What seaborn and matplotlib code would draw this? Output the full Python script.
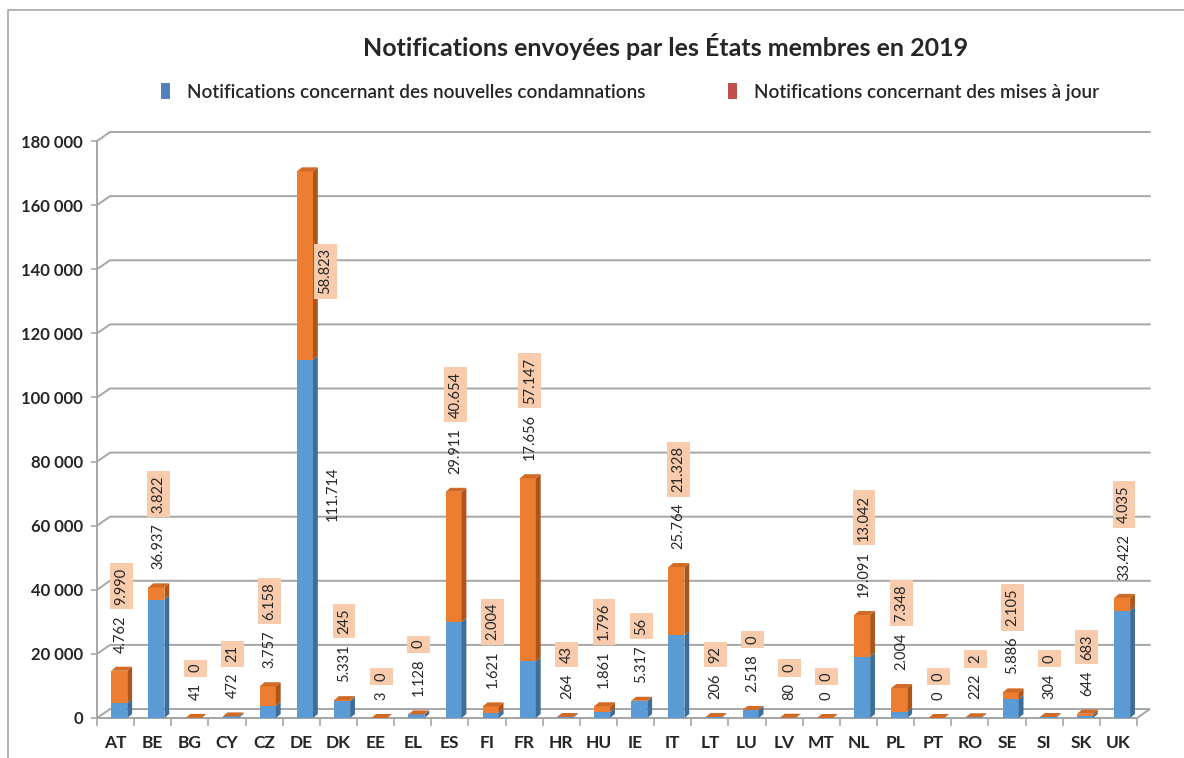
import matplotlib
matplotlib.use("Agg")
import matplotlib.pyplot as plt
from matplotlib.patches import Polygon, Patch, Rectangle
import pandas as pd
import seaborn as sns

# Données
pays = ['AT', 'BE', 'BG', 'CY', 'CZ', 'DE', 'DK', 'EE', 'EL', 'ES', 'FI', 'FR', 'HR', 'HU',
        'IE', 'IT', 'LT', 'LU', 'LV', 'MT', 'NL', 'PL', 'PT', 'RO', 'SE', 'SI', 'SK', 'UK']
nouvelles = [4762, 36937, 41, 472, 3757, 111714, 5331, 3, 1128, 29911, 1621, 17656, 264, 1861,
             5317, 25764, 206, 2518, 80, 0, 19091, 2004, 0, 222, 5886, 304, 644, 33422]
mises_a_jour = [9990, 3822, 0, 21, 6158, 58823, 245, 0, 0, 40654, 2004, 57147, 43, 1796,
                56, 21328, 92, 0, 0, 0, 13042, 7348, 0, 2, 2105, 0, 683, 4035]
y_ticks = list(range(0, 180001, 20000))

df = pd.DataFrame({'pays': pays, 'nouvelles': nouvelles, 'maj': mises_a_jour})
df['total'] = df['nouvelles'] + df['maj']

sns.set_theme(style='white')
plt.rcParams['font.family'] = ['Lato', 'DejaVu Sans']

bleu, bleu_cote = '#5B9BD5', '#3E6D9A'
orange, orange_cote, orange_haut = '#ED7D31', '#AE5519', '#D06A24'
gris = '#A6A6A6'

fig = plt.figure(figsize=(11.84, 7.58), dpi=100)
ax = fig.add_axes([97 / 1184, 40 / 758, 1040 / 1184, 577 / 758])

# Barres empilées : total en orange, puis la partie bleue par-dessus
sns.barplot(data=df, x='pays', y='total', color=orange, saturation=1, width=0.43,
            ax=ax, zorder=3, linewidth=0)
sns.barplot(data=df, x='pays', y='nouvelles', color=bleu, saturation=1, width=0.43,
            ax=ax, zorder=3, linewidth=0)

n = len(pays)
ax.set_xlim(-0.5, n - 0.5)
ax.set_ylim(0, 180000)

# Effet 3D (profondeur des barres et du fond)
sx, sy = 0.13, 1250
dx, dy = 0.35, 2800
decal = 0.1
for p in ax.patches:
    p.set_x(p.get_x() + decal)
for i in range(n):
    x0 = i - 0.215 + decal
    x1 = x0 + 0.43
    b, t = df['nouvelles'][i], df['total'][i]
    for y0, y1, c in [(0, b, bleu_cote), (b, t, orange_cote)]:
        if y1 > y0:
            ax.add_patch(Polygon([(x1, y0), (x1 + sx, y0 + sy), (x1 + sx, y1 + sy), (x1, y1)],
                                 closed=True, facecolor=c, edgecolor='none', zorder=3))
    ax.add_patch(Polygon([(x0, t), (x1, t), (x1 + sx, t + sy), (x0 + sx, t + sy)],
                         closed=True, facecolor=orange_haut, edgecolor='none', zorder=3))

# Grille du fond avec raccord oblique
for v in y_ticks[1:]:
    ax.plot([-0.5, -0.5 + dx, n - 0.5 + dx], [v, v + dy, v + dy], color=gris, lw=1.4,
            clip_on=False, zorder=1)
ax.add_patch(Polygon([(-0.5, 0), (n - 0.5, 0), (n - 0.5 + dx, dy), (-0.5 + dx, dy)],
                     closed=True, facecolor='none', edgecolor=gris, lw=1.4, clip_on=False, zorder=1))

# Étiquettes de données
fmt = lambda v: f"{v:,}".replace(',', '.')
for i in range(n):
    b, m, t = df['nouvelles'][i], df['maj'][i], df['total'][i]
    if t > 150000:
        ax.text(i + 0.85, b * 0.55, fmt(b), rotation=90, ha='center', va='bottom', fontsize=10.5)
        ax.text(i + 0.65, t * 0.775, fmt(m), rotation=90, ha='center', va='bottom', fontsize=10.5,
                bbox=dict(boxstyle='square,pad=0.3', fc='#F8CBAD', ec='none'))
        continue
    lab = ax.annotate(fmt(b), xy=(i + decal + 0.05, t), xytext=(0, 13), textcoords='offset points',
                      rotation=90, ha='center', va='bottom', fontsize=10.5, zorder=5)
    ax.annotate(fmt(m), xy=(0.5, 1), xycoords=lab, xytext=(0, 7.5), textcoords='offset points',
                rotation=90, ha='center', va='bottom', fontsize=10.5, zorder=5,
                bbox=dict(boxstyle='square,pad=0.3', fc='#F8CBAD', ec='none'))

# Axes
ax.set_yticks(y_ticks)
ax.set_yticklabels([f"{v:,}".replace(',', ' ') for v in y_ticks], fontsize=12, fontweight='bold')
ax.set_xticks(range(n))
ax.set_xticklabels(pays, fontsize=12.5, fontweight='bold')
ax.set_xticks([i - 0.5 for i in range(n + 1)], minor=True)
ax.tick_params(axis='x', which='major', length=0, pad=12)
ax.tick_params(axis='x', which='minor', length=6, color=gris, width=1.2, bottom=True)
ax.tick_params(axis='y', length=4, color=gris, width=1.2, pad=6, left=True)
ax.set_xlabel('')
ax.set_ylabel('')
for s in ['top', 'right']:
    ax.spines[s].set_visible(False)
for s in ['left', 'bottom']:
    ax.spines[s].set_color(gris)
    ax.spines[s].set_linewidth(1.4)

# Titre et légende
fig.text(0.562, 1 - 47 / 758, 'Notifications envoyées par les États membres en 2019',
         ha='center', va='center', fontsize=18, fontweight='bold')
handles = [Patch(facecolor='#4F81BD', edgecolor='none'), Patch(facecolor='#C0504D', edgecolor='none')]
fig.legend(handles, ['Notifications concernant des nouvelles condamnations',
                     'Notifications concernant des mises à jour'],
           loc='center', bbox_to_anchor=(0.532, 1 - 92 / 758), ncol=2, frameon=False,
           handlelength=0.45, handleheight=0.9, handletextpad=0.9, columnspacing=4.4,
           prop={'size': 13.6, 'weight': 'semibold'})

# Cadre extérieur
fig.patches.append(Rectangle((8 / 1184, -0.1), 1.2, 1 - 10 / 758 + 0.1, transform=fig.transFigure,
                             fill=False, edgecolor=gris, lw=1.2, clip_on=False))

fig.savefig('out.png', dpi=100)
